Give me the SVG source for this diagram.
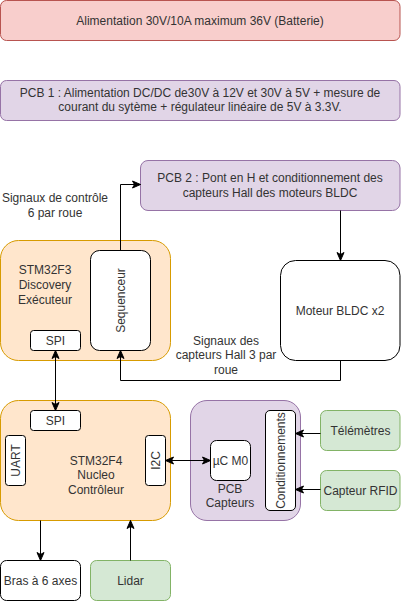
<svg xmlns="http://www.w3.org/2000/svg" width="401" height="601" viewBox="0 0 401 601">
<defs>
<style>
text{font-family:"Liberation Sans",Arial,sans-serif;font-size:12px;fill:#333;text-anchor:middle;dominant-baseline:central}
.red{fill:#f8cecc;stroke:#b85450}
.pur{fill:#e1d5e7;stroke:#9673a6}
.ora{fill:#ffe6cc;stroke:#d79b00}
.gre{fill:#d5e8d4;stroke:#82b366}
.wht{fill:#fff;stroke:#000}
.edge{fill:none;stroke:#000;stroke-width:1}
</style>
<marker id="ah" markerUnits="userSpaceOnUse" markerWidth="10" markerHeight="10" viewBox="0 0 10 10" refX="9" refY="5" orient="auto-start-reverse">
<path d="M1,1.5 L9,5 L1,8.5 L3,5 z" fill="#000" stroke="#000" stroke-width="1"/>
</marker>
</defs>
<rect width="401" height="601" fill="#fff"/>

<g id="alimentation">
<rect class="red" x="0.5" y="0.5" width="399.5" height="40" rx="6"/>
<text x="200" y="20.5">Alimentation 30V/10A maximum 36V (Batterie)</text>
</g>

<g id="pcb1">
<rect class="pur" x="0.5" y="80.5" width="399.5" height="40" rx="6"/>
<text x="200" y="93">PCB 1 : Alimentation DC/DC de30V à 12V et 30V à 5V + mesure de</text>
<text x="200" y="107">courant du sytème + régulateur linéaire de 5V à 3.3V.</text>
</g>

<g id="pcb2">
<rect class="pur" x="140.5" y="160.5" width="259.5" height="50" rx="7.5"/>
<text x="270" y="177.5">PCB 2 : Pont en H et conditionnement des</text>
<text x="270" y="192.5">capteurs Hall des moteurs BLDC</text>
</g>

<g id="label-controle">
<text x="55" y="198">Signaux de contrôle</text>
<text x="55" y="213">6 par roue</text>
</g>

<g id="stm32f3">
<rect class="ora" x="0.5" y="240.5" width="170" height="120" rx="18"/>
<text x="45" y="270">STM32F3</text>
<text x="45" y="285">Discovery</text>
<text x="45" y="299.5">Exécuteur</text>
</g>
<g id="spi-f3">
<rect class="wht" x="30.5" y="330.5" width="50" height="20" rx="3"/>
<text x="55.5" y="340.5">SPI</text>
</g>
<g id="sequenceur">
<rect class="wht" x="90.5" y="250.5" width="60" height="100" rx="9"/>
<text transform="translate(120.5,300.5) rotate(-90)">Sequenceur</text>
</g>

<g id="moteur">
<rect class="wht" x="280.5" y="260.5" width="119.5" height="100" rx="15"/>
<text x="340" y="310.5">Moteur BLDC x2</text>
</g>

<g id="label-hall">
<text x="226" y="341">Signaux des</text>
<text x="226" y="355">capteurs Hall 3 par</text>
<text x="226" y="369.5">roue</text>
</g>

<g id="stm32f4">
<rect class="ora" x="0.5" y="400.5" width="170" height="120" rx="18"/>
<text x="96" y="461">STM32F4</text>
<text x="96" y="475">Nucleo</text>
<text x="96" y="489.5">Contrôleur</text>
</g>
<g id="spi-f4">
<rect class="wht" x="30.5" y="410.5" width="50" height="20" rx="3"/>
<text x="55.5" y="420.5">SPI</text>
</g>
<g id="uart">
<rect class="wht" x="5.5" y="435.5" width="20" height="50" rx="3"/>
<text transform="translate(15.5,460.5) rotate(-90)">UART</text>
</g>
<g id="i2c">
<rect class="wht" x="145.5" y="435.5" width="20" height="50" rx="3"/>
<text transform="translate(155.5,460.5) rotate(-90)">I2C</text>
</g>

<g id="pcb-capteurs">
<rect class="pur" x="190.5" y="400.5" width="110" height="120" rx="16.5"/>
<text x="230" y="488.5">PCB</text>
<text x="230" y="503">Capteurs</text>
</g>
<g id="uc-m0">
<rect class="wht" x="210.5" y="440.5" width="40" height="40" rx="6"/>
<text x="230.5" y="460.5">µC M0</text>
</g>
<g id="conditionnements">
<rect class="wht" x="265.5" y="410.5" width="30" height="100" rx="4.5"/>
<text transform="translate(280.5,460.5) rotate(-90)">Conditionnements</text>
</g>

<g id="telemetres">
<rect class="gre" x="320.5" y="410.5" width="79.5" height="40" rx="6"/>
<text x="360.5" y="430.5">Télémètres</text>
</g>
<g id="rfid">
<rect class="gre" x="320.5" y="470.5" width="79.5" height="40" rx="6"/>
<text x="360.5" y="490.5">Capteur RFID</text>
</g>

<g id="bras">
<rect class="wht" x="0.5" y="560.5" width="80" height="40" rx="6"/>
<text x="40.5" y="580.5">Bras à 6 axes</text>
</g>
<g id="lidar">
<rect class="gre" x="90.5" y="560.5" width="80" height="40" rx="6"/>
<text x="130.5" y="580.5">Lidar</text>
</g>

<g id="connectors">
<path class="edge" d="M120.5,250.5 V184.5 H140.5" marker-end="url(#ah)"/>
<path class="edge" d="M340.5,210.5 V260.5" marker-end="url(#ah)"/>
<path class="edge" d="M340.5,360.5 V380.5 H120.5 V350.5" marker-end="url(#ah)"/>
<path class="edge" d="M55.5,350.5 V410.5" marker-start="url(#ah)" marker-end="url(#ah)"/>
<path class="edge" d="M165.5,460.5 H210.5" marker-start="url(#ah)" marker-end="url(#ah)"/>
<path class="edge" d="M320.5,433.5 H295.5" marker-end="url(#ah)"/>
<path class="edge" d="M320.5,489.5 H295.5" marker-end="url(#ah)"/>
<path class="edge" d="M40.5,520.5 V560.5" marker-end="url(#ah)"/>
<path class="edge" d="M130.5,560.5 V520.5" marker-end="url(#ah)"/>
</g>
</svg>
